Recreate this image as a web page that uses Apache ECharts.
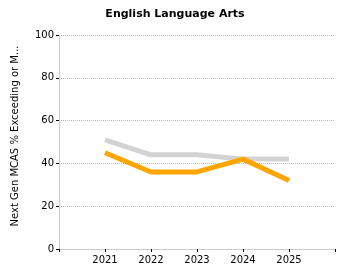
<!DOCTYPE html>
<html>
<head>
<meta charset="utf-8">
<script src="https://cdn.jsdelivr.net/npm/echarts@6/dist/echarts.min.js"></script>
<style>
  html, body { margin: 0; padding: 0; background: #fff; }
  #chart { width: 350px; height: 280px; }
</style>
</head>
<body>
<div id="chart"></div>
<script>
const years = [2021, 2022, 2023, 2024, 2025];
const stateValues = [51, 44, 44, 42, 42];
const districtValues = [45, 36, 36, 42, 32];
const yTicks = [0, 20, 40, 60, 80, 100];

const font = 'DejaVu Sans, Verdana, sans-serif';
const toPairs = (vals) => years.map((y, i) => [y, vals[i]]);

const myChart = echarts.init(document.getElementById('chart'));
myChart.setOption({
  animation: false,
  title: {
    text: 'English Language Arts',
    left: 'center',
    top: 4,
    textStyle: { fontFamily: font, fontSize: 11, fontWeight: 'bold', color: '#000' },
  },
  grid: { left: 59, right: 15, top: 35, bottom: 31 },
  xAxis: {
    type: 'value',
    min: 2020,
    max: 2026,
    interval: 1,
    axisLine: { lineStyle: { color: '#ccc' } },
    axisTick: { show: true, length: 3, lineStyle: { color: '#000' } },
    splitLine: { show: false },
    axisLabel: {
      fontFamily: font,
      fontSize: 10,
      color: '#000',
      margin: 6,
      formatter: (v) => (years.includes(v) ? String(v) : ''),
    },
  },
  yAxis: {
    type: 'value',
    min: yTicks[0],
    max: yTicks[yTicks.length - 1],
    interval: 20,
    name: 'Next Gen MCAS % Exceeding or Meeting Expectations',
    nameLocation: 'middle',
    nameGap: 39,
    nameTruncate: { maxWidth: 182, ellipsis: '...' },
    nameTextStyle: { fontFamily: font, fontSize: 10, color: '#000', padding: [0, 0, 0, 12] },
    axisLine: { show: true, lineStyle: { color: '#ccc' } },
    axisTick: { show: true, length: 3, lineStyle: { color: '#000' } },
    axisLabel: { fontFamily: font, fontSize: 10, color: '#000', margin: 5 },
    splitLine: { lineStyle: { color: '#bbb', type: 'dotted' } },
  },
  series: [
    {
      type: 'line',
      data: toPairs(stateValues),
      symbol: 'none',
      lineStyle: { color: '#d3d3d3', width: 5 },
    },
    {
      type: 'line',
      data: toPairs(districtValues),
      symbol: 'none',
      lineStyle: { color: '#ffa500', width: 5 },
    },
  ],
});
</script>
</body>
</html>
